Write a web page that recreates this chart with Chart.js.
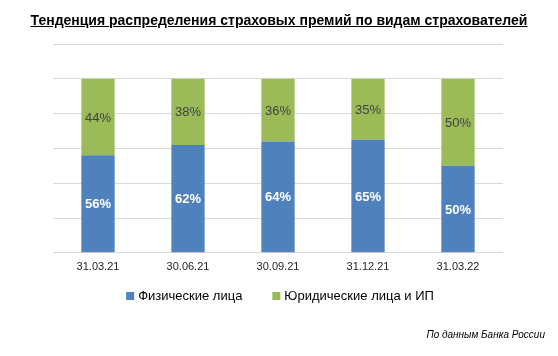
<!DOCTYPE html>
<html>
<head>
<meta charset="utf-8">
<script src="https://cdn.jsdelivr.net/npm/chart.js@4"></script>
<style>
  html, body { margin: 0; padding: 0; background: #ffffff; }
  #wrap { position: relative; width: 558px; height: 356px; overflow: hidden; }
  #title { position: absolute; left: 0; top: 12px; width: 558px; text-align: center;
    font: bold 14px "Liberation Sans", Arial, sans-serif; color: #000; text-decoration: underline; white-space: nowrap; }
  #source { position: absolute; right: 13px; top: 329px;
    font: italic 10px "Liberation Sans", Arial, sans-serif; color: #000; white-space: nowrap; }
  canvas { position: absolute; left: 0; top: 0; }
</style>
</head>
<body>
<div id="wrap">
  <canvas id="c" width="558" height="356"></canvas>
  <div id="title">Тенденция распределения страховых премий по видам страхователей</div>
  <div id="source">По данным Банка России</div>
</div>
<script>
const categories = ['31.03.21', '30.06.21', '30.09.21', '31.12.21', '31.03.22'];
const individuals = [56, 62, 64, 65, 50];
const legalEntities = [44, 38, 36, 35, 50];
const seriesNames = ['Физические лица', 'Юридические лица и ИП'];
const yTicks = [0, 20, 40, 60, 80, 100, 120];

const FONT = '"Liberation Sans", Arial, sans-serif';

const valueLabels = {
  id: 'valueLabels',
  afterDatasetsDraw(chart) {
    const ctx = chart.ctx;
    ctx.save();
    ctx.textAlign = 'center';
    ctx.textBaseline = 'middle';
    chart.data.datasets.forEach((ds, di) => {
      const meta = chart.getDatasetMeta(di);
      meta.data.forEach((el, i) => {
        const y = (el.y + el.base) / 2;
        if (di === 0) { ctx.fillStyle = '#ffffff'; ctx.font = 'bold 13px ' + FONT; }
        else { ctx.fillStyle = '#404040'; ctx.font = '13px ' + FONT; }
        ctx.fillText(ds.data[i] + '%', el.x, y + 1);
      });
    });
    ctx.restore();
  }
};

const customLegend = {
  id: 'customLegend',
  afterDraw(chart) {
    const ctx = chart.ctx;
    ctx.save();
    ctx.font = '13px ' + FONT;
    ctx.textBaseline = 'middle';
    const box = 8, boxGap = 4, itemGap = 30;
    const items = chart.data.datasets.map(ds => ({ text: ds.label, color: ds.backgroundColor, w: ctx.measureText(ds.label).width }));
    const total = items.reduce((s, it) => s + box + boxGap + it.w, 0) + itemGap * (items.length - 1);
    let x = 280 - total / 2;
    const y = 296;
    items.forEach(it => {
      ctx.fillStyle = it.color;
      ctx.fillRect(x, y - box / 2, box, box);
      x += box + boxGap;
      ctx.fillStyle = '#000000';
      ctx.fillText(it.text, x, y);
      x += it.w + itemGap;
    });
    ctx.restore();
  }
};

new Chart(document.getElementById('c'), {
  type: 'bar',
  data: {
    labels: categories,
    datasets: [
      { label: seriesNames[0], data: individuals, backgroundColor: '#4F81BD', barPercentage: 0.37, categoryPercentage: 1 },
      { label: seriesNames[1], data: legalEntities, backgroundColor: '#9BBB59', barPercentage: 0.37, categoryPercentage: 1 }
    ]
  },
  options: {
    responsive: false,
    animation: false,
    devicePixelRatio: 1,
    layout: { padding: { top: 44, left: 53, right: 55, bottom: 74 } },
    plugins: { legend: { display: false }, title: { display: false }, tooltip: { enabled: false } },
    scales: {
      x: {
        stacked: true,
        grid: { display: false, drawTicks: false },
        border: { display: false },
        ticks: { color: '#262626', font: { family: FONT, size: 11 }, padding: 8 }
      },
      y: {
        stacked: true,
        min: 0, max: 120,
        afterBuildTicks(scale) { scale.ticks = yTicks.map(v => ({ value: v })); },
        grid: { color: '#D9D9D9', lineWidth: 1, drawTicks: false },
        border: { display: false },
        ticks: { display: false }
      }
    }
  },
  plugins: [valueLabels, customLegend]
});
</script>
</body>
</html>
